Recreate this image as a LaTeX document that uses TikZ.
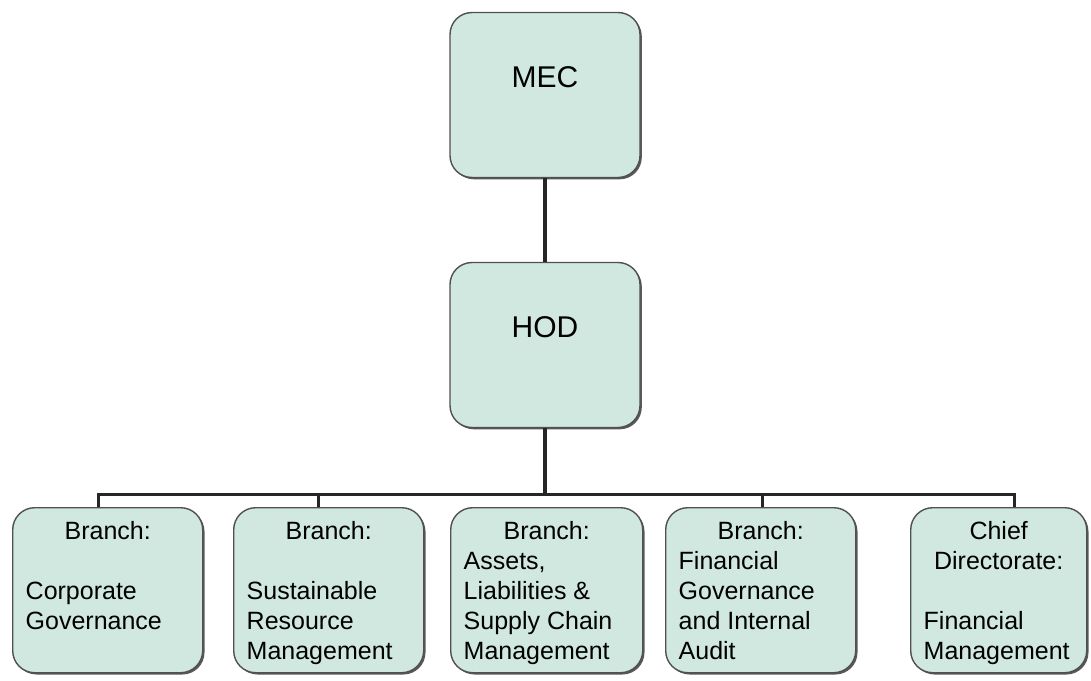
\documentclass[tikz,border=0pt]{standalone}
\usepackage{fontspec}
\setmainfont{Liberation Sans}
\usetikzlibrary{calc,shadows}
\definecolor{unitfill}{RGB}{208,232,224}
\definecolor{unitline}{RGB}{80,80,80}
\tikzset{
  unit/.style={draw=unitline,line width=1.4pt,fill=unitfill,rounded corners=22pt,
    drop shadow={shadow xshift=1.8pt,shadow yshift=-1.8pt,fill=black!65,opacity=1}},
  topunit/.style={unit,minimum width=190pt,inner sep=0pt,text height=75pt,text depth=90pt,
    font=\fontsize{30}{36}\selectfont},
  subunit/.style={unit,anchor=north west,inner xsep=13pt,inner ysep=14pt,
    font=\fontsize{25}{30}\selectfont},
  link/.style={line width=3.4pt,draw=black!85}
}
\newcommand{\unittext}[2][164pt]{\parbox[t][137pt][t]{#1}{#2}}
\begin{document}
\begin{tikzpicture}[x=1pt,y=-1pt]
\useasboundingbox (0,0) rectangle (1091,680);
\node[topunit] (mec) at (545,95) {MEC};
\node[topunit] (hod) at (545,345) {HOD};
\node[subunit] (b1) at (12,507) {\unittext{\centering Branch:\par\raggedright\vspace{30pt}Corporate\\Governance}};
\node[subunit] (b2) at (233,507) {\unittext{\centering Branch:\par\raggedright\vspace{30pt}Sustainable\\Resource\\Management}};
\node[subunit] (b3) at (450,507) {\unittext[166pt]{\centering Branch:\par\raggedright Assets,\\Liabilities \&\\Supply Chain\\Management}};
\node[subunit] (b4) at (665,507) {\unittext{\centering Branch:\par\raggedright Financial\\Governance\\and Internal\\Audit}};
\node[subunit] (b5) at (910,507) {\unittext[150pt]{\centering Chief\\Directorate:\par\raggedright\vspace{30pt}Financial\\Management}};
\coordinate (bar) at ($(hod.south)+(0,66)$);
\draw[link] (mec.south) -- (hod.north);
\draw[link] (hod.south) -- (bar);
\foreach \n/\dx in {b1/-9,b2/-10,b4/2,b5/16}
  \draw[link] (bar) -| ([xshift=\dx pt]\n.north);
\end{tikzpicture}
\end{document}
